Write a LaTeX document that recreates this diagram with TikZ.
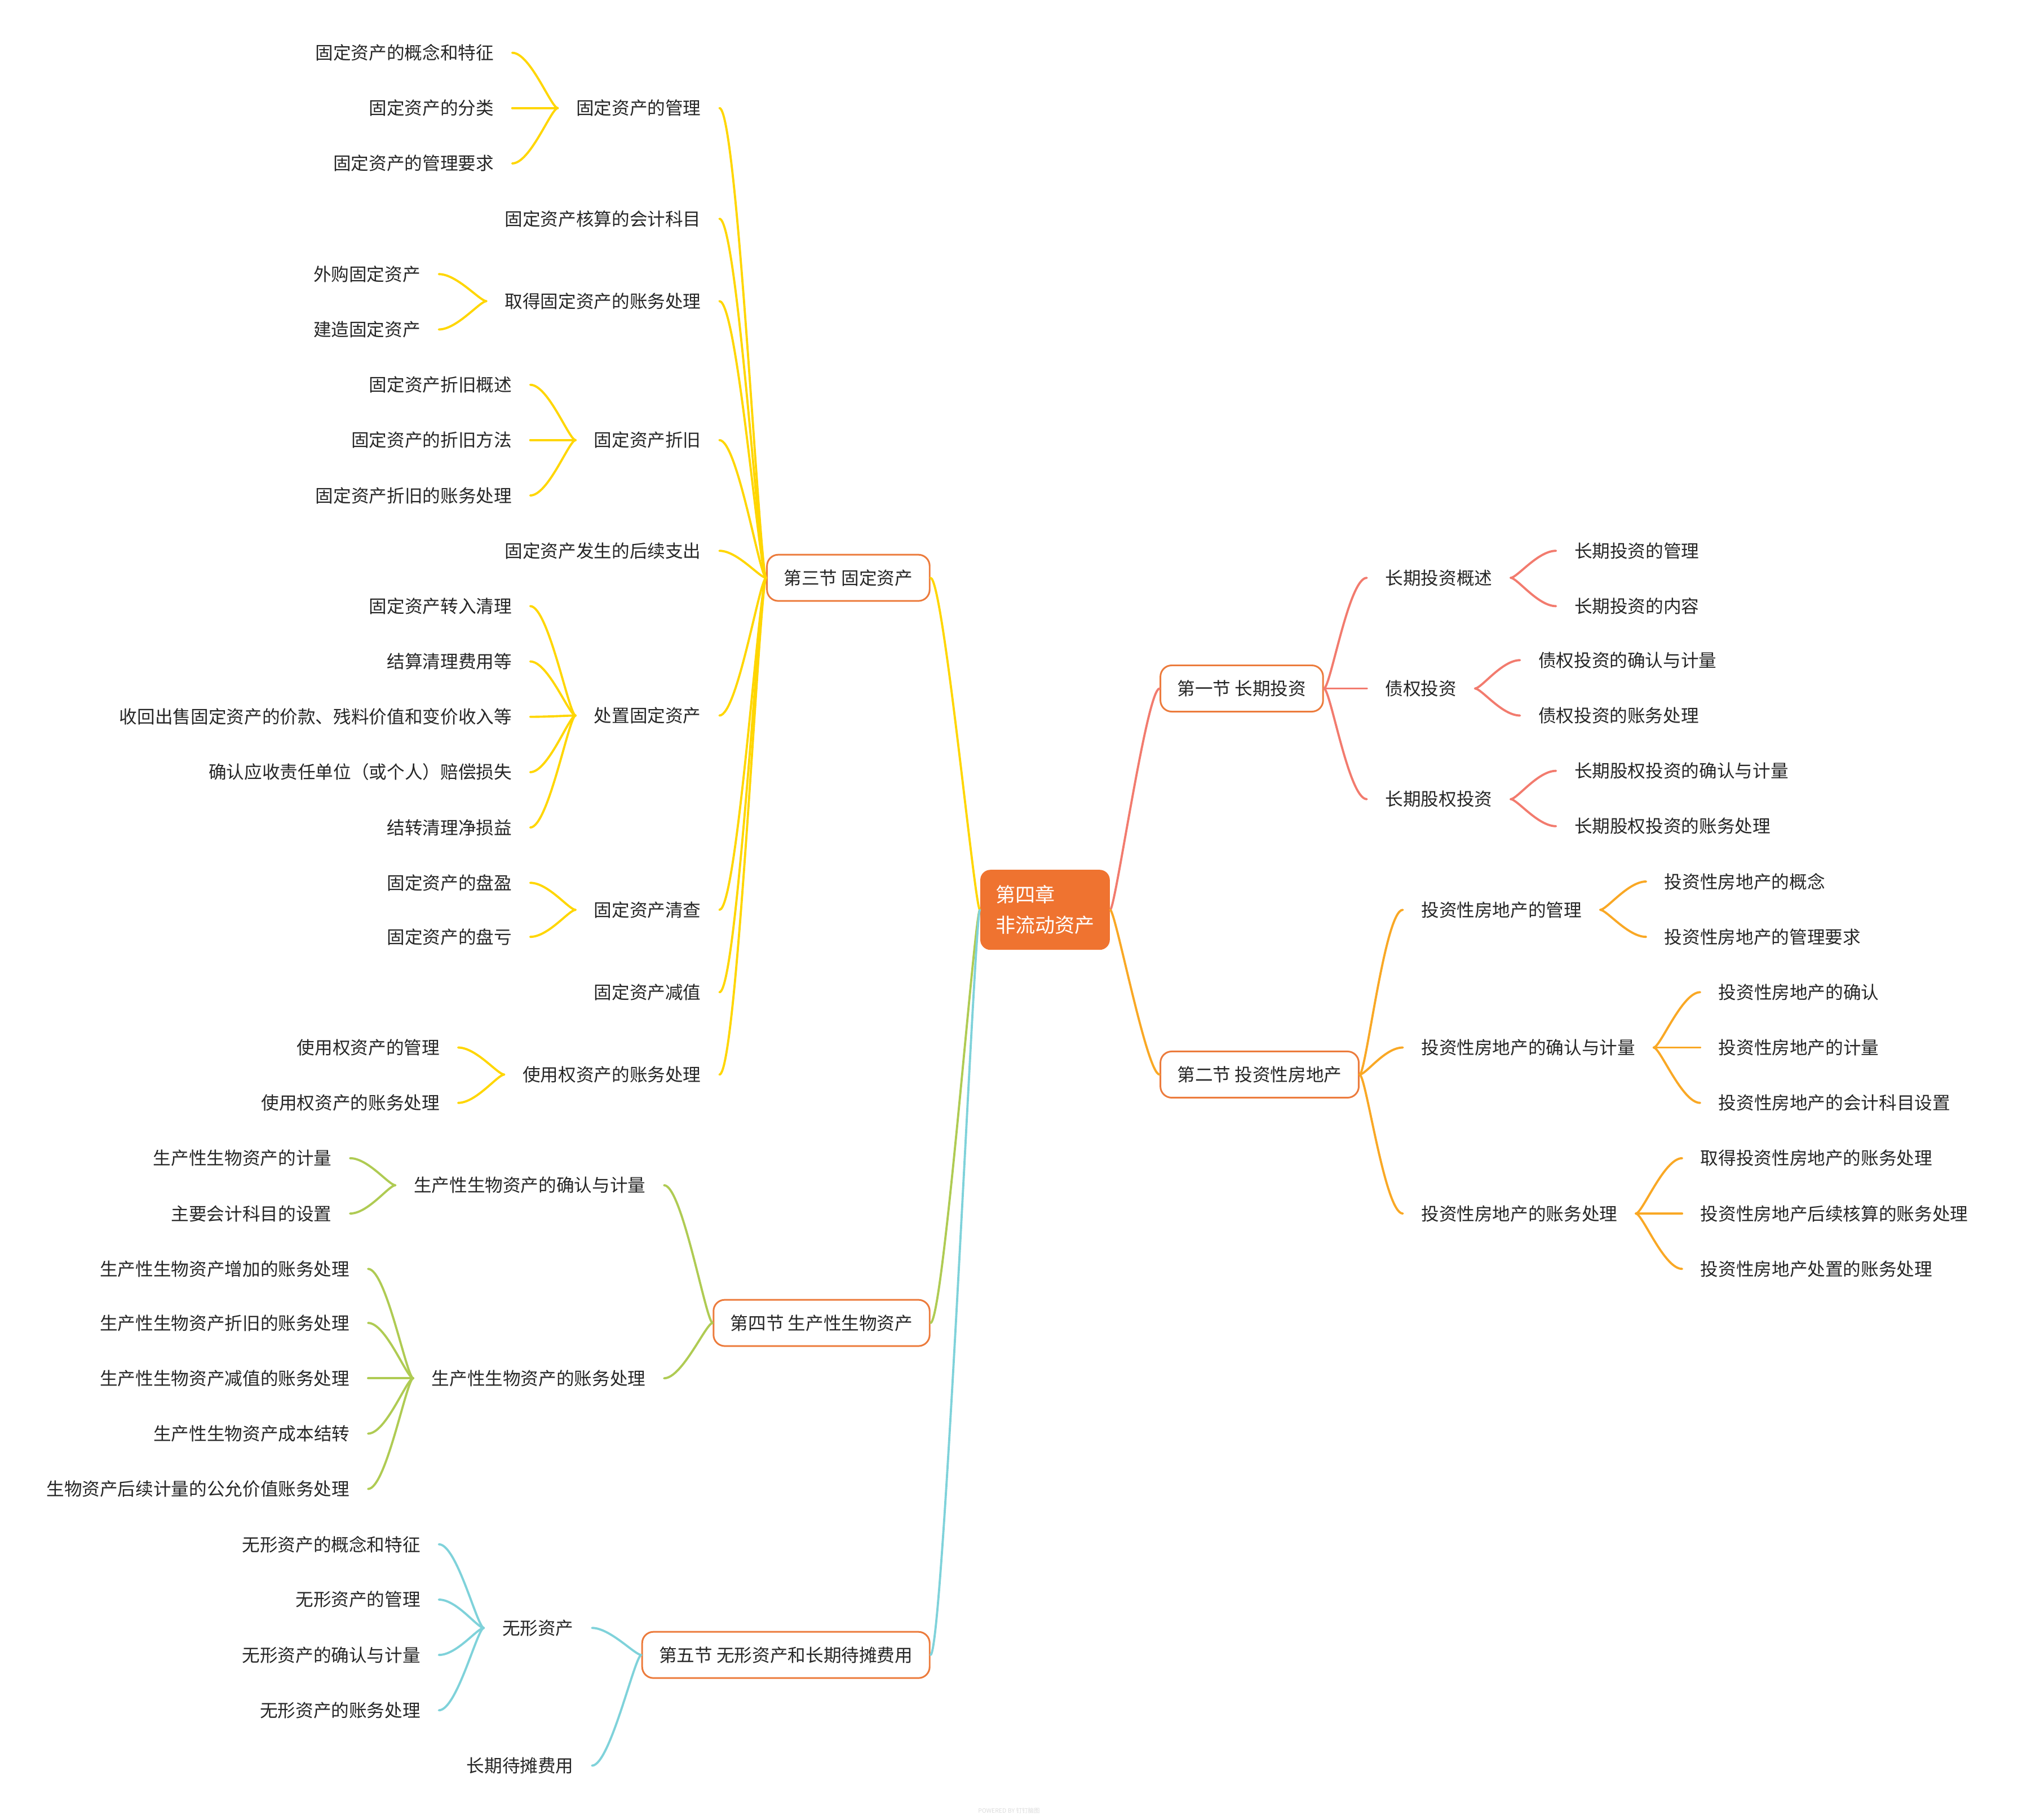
\documentclass[tikz,border=0pt]{standalone}
\usepackage{fontspec}
\setmainfont{Noto Sans CJK SC}

\definecolor{rootorange}{HTML}{EF7330}
\definecolor{boxline}{HTML}{EC7B3C}
\definecolor{salmon}{HTML}{F27B6E}
\definecolor{amber}{HTML}{F9A825}
\definecolor{gold}{HTML}{FFD600}
\definecolor{leaf}{HTML}{AFCB53}
\definecolor{aqua}{HTML}{7FD2DA}
\definecolor{ink}{HTML}{262626}

\begin{document}
\begin{tikzpicture}[
    x=0.02283cm, y=-0.02283cm,
    root/.style={rectangle, rounded corners=0.18cm, fill=rootorange, text=white, align=left, font=\fontsize{10}{15.5}\selectfont, inner xsep=0.27cm, minimum height=1.42cm},
    sect/.style={rectangle, draw=boxline, line width=0.85pt, rounded corners=0.2cm, fill=white, text=ink, font=\fontsize{9}{11}\selectfont, inner xsep=0.3cm, minimum height=0.82cm},
    item/.style={text=ink, font=\fontsize{9}{11}\selectfont, inner xsep=0.32cm, inner ysep=2pt},
    link/.style={line width=1.1pt, line cap=round}
]
\useasboundingbox (0,0) rectangle (1568,1414);

% centre
\node[root] (root) at (812,707) {第四章\\非流动资产};

% right side
\node[sect, anchor=west] (s1) at (901,535) {第一节 长期投资};
\node[sect, anchor=west] (s2) at (901,835) {第二节 投资性房地产};

\node[item, anchor=west] (a1) at (1062,449) {长期投资概述};
\node[item, anchor=west] (a2) at (1062,535) {债权投资};
\node[item, anchor=west] (a3) at (1062,621) {长期股权投资};
\node[item, anchor=west] (a11) at (1209,428) {长期投资的管理};
\node[item, anchor=west] (a12) at (1209,471) {长期投资的内容};
\node[item, anchor=west] (a21) at (1181,513) {债权投资的确认与计量};
\node[item, anchor=west] (a22) at (1181,556) {债权投资的账务处理};
\node[item, anchor=west] (a31) at (1209,599) {长期股权投资的确认与计量};
\node[item, anchor=west] (a32) at (1209,642) {长期股权投资的账务处理};

\node[item, anchor=west] (b1) at (1090,707) {投资性房地产的管理};
\node[item, anchor=west] (b2) at (1090,814) {投资性房地产的确认与计量};
\node[item, anchor=west] (b3) at (1090,943) {投资性房地产的账务处理};
\node[item, anchor=west] (b11) at (1279,685) {投资性房地产的概念};
\node[item, anchor=west] (b12) at (1279,728) {投资性房地产的管理要求};
\node[item, anchor=west] (b21) at (1321,771) {投资性房地产的确认};
\node[item, anchor=west] (b22) at (1321,814) {投资性房地产的计量};
\node[item, anchor=west] (b23) at (1321,857) {投资性房地产的会计科目设置};
\node[item, anchor=west] (b31) at (1307,900) {取得投资性房地产的账务处理};
\node[item, anchor=west] (b32) at (1307,943) {投资性房地产后续核算的账务处理};
\node[item, anchor=west] (b33) at (1307,986) {投资性房地产处置的账务处理};

% left side
\node[sect, anchor=east] (s3) at (723,449) {第三节 固定资产};
\node[sect, anchor=east] (s4) at (723,1028) {第四节 生产性生物资产};
\node[sect, anchor=east] (s5) at (723,1286) {第五节 无形资产和长期待摊费用};

\node[item, anchor=east] (c1) at (559,84) {固定资产的管理};
\node[item, anchor=east] (c2) at (559,170) {固定资产核算的会计科目};
\node[item, anchor=east] (c3) at (559,234) {取得固定资产的账务处理};
\node[item, anchor=east] (c4) at (559,342) {固定资产折旧};
\node[item, anchor=east] (c5) at (559,428) {固定资产发生的后续支出};
\node[item, anchor=east] (c6) at (559,556) {处置固定资产};
\node[item, anchor=east] (c7) at (559,707) {固定资产清查};
\node[item, anchor=east] (c8) at (559,771) {固定资产减值};
\node[item, anchor=east] (c9) at (559,835) {使用权资产的账务处理};
\node[item, anchor=east] (c11) at (398,41) {固定资产的概念和特征};
\node[item, anchor=east] (c12) at (398,84) {固定资产的分类};
\node[item, anchor=east] (c13) at (398,127) {固定资产的管理要求};
\node[item, anchor=east] (c31) at (341,213) {外购固定资产};
\node[item, anchor=east] (c32) at (341,256) {建造固定资产};
\node[item, anchor=east] (c41) at (412,299) {固定资产折旧概述};
\node[item, anchor=east] (c42) at (412,342) {固定资产的折旧方法};
\node[item, anchor=east] (c43) at (412,385) {固定资产折旧的账务处理};
\node[item, anchor=east] (c61) at (412,471) {固定资产转入清理};
\node[item, anchor=east] (c62) at (412,514) {结算清理费用等};
\node[item, anchor=east] (c63) at (412,557) {收回出售固定资产的价款、残料价值和变价收入等};
\node[item, anchor=east] (c64) at (412,600) {确认应收责任单位（或个人）赔偿损失};
\node[item, anchor=east] (c65) at (412,643) {结转清理净损益};
\node[item, anchor=east] (c71) at (412,686) {固定资产的盘盈};
\node[item, anchor=east] (c72) at (412,728) {固定资产的盘亏};
\node[item, anchor=east] (c91) at (356,814) {使用权资产的管理};
\node[item, anchor=east] (c92) at (356,857) {使用权资产的账务处理};

\node[item, anchor=east] (d1) at (516,921) {生产性生物资产的确认与计量};
\node[item, anchor=east] (d2) at (516,1071) {生产性生物资产的账务处理};
\node[item, anchor=east] (d11) at (272,900) {生产性生物资产的计量};
\node[item, anchor=east] (d12) at (272,943) {主要会计科目的设置};
\node[item, anchor=east] (d21) at (286,986) {生产性生物资产增加的账务处理};
\node[item, anchor=east] (d22) at (286,1028) {生产性生物资产折旧的账务处理};
\node[item, anchor=east] (d23) at (286,1071) {生产性生物资产减值的账务处理};
\node[item, anchor=east] (d24) at (286,1114) {生产性生物资产成本结转};
\node[item, anchor=east] (d25) at (286,1157) {生物资产后续计量的公允价值账务处理};

\node[item, anchor=east] (e1) at (460,1265) {无形资产};
\node[item, anchor=east] (e2) at (460,1372) {长期待摊费用};
\node[item, anchor=east] (e11) at (341,1200) {无形资产的概念和特征};
\node[item, anchor=east] (e12) at (341,1243) {无形资产的管理};
\node[item, anchor=east] (e13) at (341,1286) {无形资产的确认与计量};
\node[item, anchor=east] (e14) at (341,1329) {无形资产的账务处理};

\node[text=black!14, font=\fontsize{3}{3}\selectfont, inner sep=0pt] (mark) at (784,1407) {POWERED BY 钉钉脑图};

% connectors, right
\draw[link, salmon] (root.east) .. controls +(4,0) and +(-10,0) .. (s1.west);
\draw[link, amber] (root.east) .. controls +(4,0) and +(-10,0) .. (s2.west);
\foreach \c in {a1,a2,a3}
  \draw[link, salmon] (s1.east) .. controls +(5,0) and +(-14,0) .. (\c.west);
\foreach \c in {a11,a12}
  \draw[link, salmon] (a1.east) .. controls +(5,0) and +(-14,0) .. (\c.west);
\foreach \c in {a21,a22}
  \draw[link, salmon] (a2.east) .. controls +(5,0) and +(-14,0) .. (\c.west);
\foreach \c in {a31,a32}
  \draw[link, salmon] (a3.east) .. controls +(5,0) and +(-14,0) .. (\c.west);
\foreach \c in {b1,b2,b3}
  \draw[link, amber] (s2.east) .. controls +(5,0) and +(-14,0) .. (\c.west);
\foreach \c in {b11,b12}
  \draw[link, amber] (b1.east) .. controls +(5,0) and +(-14,0) .. (\c.west);
\foreach \c in {b21,b22,b23}
  \draw[link, amber] (b2.east) .. controls +(5,0) and +(-14,0) .. (\c.west);
\foreach \c in {b31,b32,b33}
  \draw[link, amber] (b3.east) .. controls +(5,0) and +(-14,0) .. (\c.west);

% connectors, left
\draw[link, gold] (root.west) .. controls +(-4,0) and +(10,0) .. (s3.east);
\draw[link, leaf] (root.west) .. controls +(-4,0) and +(10,0) .. (s4.east);
\draw[link, aqua] (root.west) .. controls +(-4,0) and +(10,0) .. (s5.east);
\foreach \c in {c1,c2,c3,c4,c5,c6,c7,c8,c9}
  \draw[link, gold] (s3.west) .. controls +(-5,0) and +(14,0) .. (\c.east);
\foreach \c in {c11,c12,c13}
  \draw[link, gold] (c1.west) .. controls +(-5,0) and +(14,0) .. (\c.east);
\foreach \c in {c31,c32}
  \draw[link, gold] (c3.west) .. controls +(-5,0) and +(14,0) .. (\c.east);
\foreach \c in {c41,c42,c43}
  \draw[link, gold] (c4.west) .. controls +(-5,0) and +(14,0) .. (\c.east);
\foreach \c in {c61,c62,c63,c64,c65}
  \draw[link, gold] (c6.west) .. controls +(-5,0) and +(14,0) .. (\c.east);
\foreach \c in {c71,c72}
  \draw[link, gold] (c7.west) .. controls +(-5,0) and +(14,0) .. (\c.east);
\foreach \c in {c91,c92}
  \draw[link, gold] (c9.west) .. controls +(-5,0) and +(14,0) .. (\c.east);
\foreach \c in {d1,d2}
  \draw[link, leaf] (s4.west) .. controls +(-5,0) and +(14,0) .. (\c.east);
\foreach \c in {d11,d12}
  \draw[link, leaf] (d1.west) .. controls +(-5,0) and +(14,0) .. (\c.east);
\foreach \c in {d21,d22,d23,d24,d25}
  \draw[link, leaf] (d2.west) .. controls +(-5,0) and +(14,0) .. (\c.east);
\foreach \c in {e1,e2}
  \draw[link, aqua] (s5.west) .. controls +(-5,0) and +(14,0) .. (\c.east);
\foreach \c in {e11,e12,e13,e14}
  \draw[link, aqua] (e1.west) .. controls +(-5,0) and +(14,0) .. (\c.east);
\end{tikzpicture}
\end{document}
